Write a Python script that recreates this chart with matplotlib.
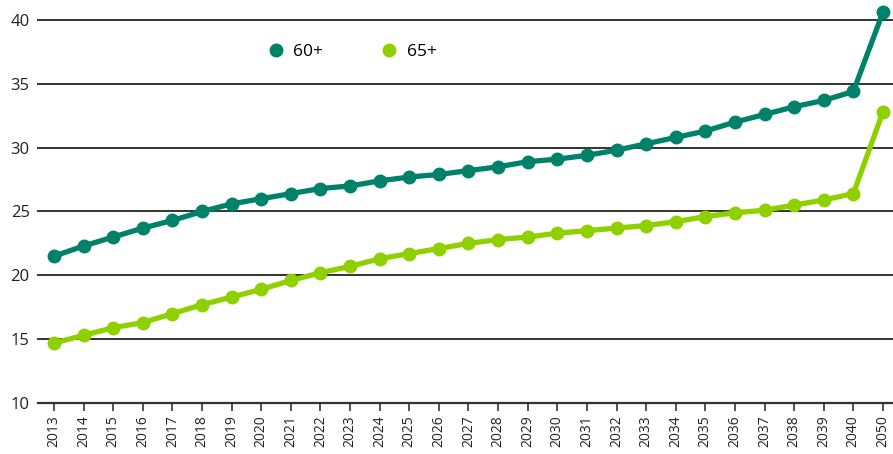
import matplotlib
matplotlib.use('Agg')
import matplotlib.pyplot as plt
from matplotlib.lines import Line2D

plt.rcParams['font.family'] = ['Open Sans', 'DejaVu Sans']

years = ['2013', '2014', '2015', '2016', '2017', '2018', '2019', '2020', '2021',
         '2022', '2023', '2024', '2025', '2026', '2027', '2028', '2029', '2030',
         '2031', '2032', '2033', '2034', '2035', '2036', '2037', '2038', '2039',
         '2040', '2050']
age60 = [21.5, 22.3, 23.0, 23.7, 24.3, 25.0, 25.6, 26.0, 26.4, 26.8, 27.0, 27.4,
         27.7, 27.9, 28.2, 28.5, 28.9, 29.1, 29.4, 29.8, 30.3, 30.8, 31.3, 32.0,
         32.6, 33.2, 33.7, 34.4, 40.6]
age65 = [14.7, 15.3, 15.9, 16.3, 17.0, 17.7, 18.3, 18.9, 19.6, 20.2, 20.7, 21.3,
         21.7, 22.1, 22.5, 22.8, 23.0, 23.3, 23.5, 23.7, 23.9, 24.2, 24.6, 24.9,
         25.1, 25.5, 25.9, 26.4, 32.8]
yticks = [10, 15, 20, 25, 30, 35, 40]

c60 = '#00826a'
c65 = '#8fd000'

fig = plt.figure(figsize=(8.93, 4.54), dpi=100)
ax = fig.add_axes([0.0426, 0.1123, 0.9574, 0.8437])

x = list(range(len(years)))
ax.plot(x, age60, color=c60, lw=3.8, marker='o', ms=9, clip_on=False, zorder=3)
ax.plot(x, age65, color=c65, lw=3.8, marker='o', ms=9, clip_on=False, zorder=3)

ax.set_ylim(10, 40)
ax.set_xlim(-0.54, 28.34)
ax.set_yticks(yticks)
ax.set_xticks(x)
ax.set_xticklabels(years, rotation=90, fontsize=10)
ax.tick_params(axis='y', length=0, labelsize=12, pad=6, colors='#222222')
ax.tick_params(axis='x', length=6, width=1.2, color='#333333', labelcolor='#222222', pad=3)
ax.grid(axis='y', color='#333333', lw=1.4, zorder=1)
for gl in ax.yaxis.get_gridlines():
    gl.set_clip_on(False)
for s in ['top', 'right', 'left']:
    ax.spines[s].set_visible(False)
ax.spines['bottom'].set_color('#333333')
ax.spines['bottom'].set_linewidth(1.6)

handles = [Line2D([], [], color=c60, marker='o', ls='none', ms=9),
           Line2D([], [], color=c65, marker='o', ls='none', ms=9)]
fig.legend(handles, ['60+', '65+'], ncol=2, frameon=False, loc='center',
           bbox_to_anchor=(352 / 893, 1 - 52 / 454), fontsize=12.5,
           handletextpad=0.5, columnspacing=3.3, handlelength=1)

fig.savefig('out.png', dpi=100)
